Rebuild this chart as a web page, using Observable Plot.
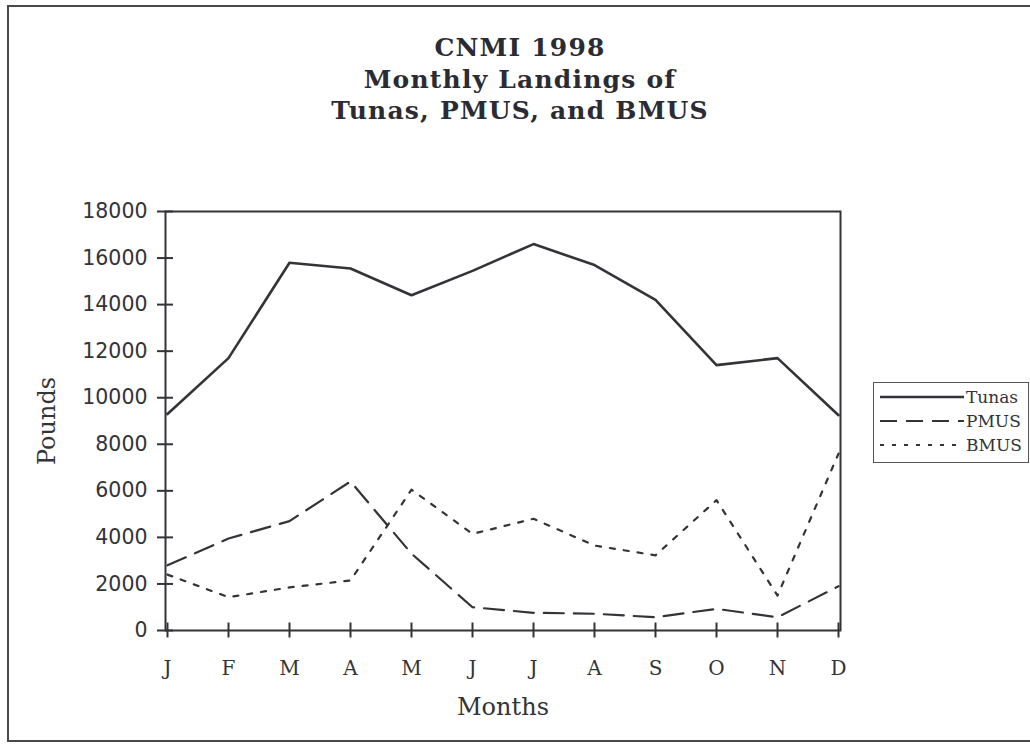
<!DOCTYPE html>
<html>
<head>
<meta charset="utf-8">
<script src="https://cdn.jsdelivr.net/npm/d3@7"></script>
<script src="https://cdn.jsdelivr.net/npm/@observablehq/plot@0.6"></script>
<style>
  html, body { margin: 0; padding: 0; background: #fff; }
  #wrap { position: relative; width: 1030px; height: 748px; overflow: hidden; background: #fff; }
  #border { position: absolute; left: 7px; top: 5px; width: 1040px; height: 737px; border: 2px solid #4a4a4a; box-sizing: border-box; }
  #title { position: absolute; left: 0; top: 32px; width: 1040px; text-align: center;
    font-family: "DejaVu Serif", serif; font-weight: bold; font-size: 25px; letter-spacing: 1.2px; line-height: 31.5px; color: #2b2b33; }
  #chart { position: absolute; left: 0; top: 0; }
  #legend { position: absolute; left: 873px; top: 382px; width: 156px; height: 81px; border: 1px solid #555; box-sizing: border-box; background: #fff; }
</style>
</head>
<body>
<div id="wrap">
  <div id="border"></div>
  <div id="chart"></div>
  <div id="title">CNMI 1998<br>Monthly Landings of<br>Tunas, PMUS, and BMUS</div>
  <div id="legend"></div>
</div>
<script>
// ---- data ----
const monthLabels = ["J", "F", "M", "A", "M", "J", "J", "A", "S", "O", "N", "D"];
const tunas = [9300, 11700, 15800, 15550, 14400, 15450, 16600, 15700, 14200, 11400, 11700, 9250];
const pmus  = [2800, 3950, 4700, 6400, 3300, 1000, 760, 720, 570, 930, 570, 1900];
const bmus  = [2400, 1430, 1850, 2150, 6050, 4150, 4800, 3650, 3230, 5600, 1500, 7600];
const yTicks = [0, 2000, 4000, 6000, 8000, 10000, 12000, 14000, 16000, 18000];
const seriesNames = ["Tunas", "PMUS", "BMUS"];

const ink = "#333338";
const idx = d3.range(monthLabels.length);
const rows = (vals) => vals.map((v, i) => ({i, v}));
const dashes = {Tunas: null, PMUS: "20,10", BMUS: "5,9"};
const widths = {Tunas: 2.6, PMUS: 2.2, BMUS: 2.2};

const chart = Plot.plot({
  width: 1030,
  height: 748,
  marginLeft: 165,
  marginRight: 190,
  marginTop: 211,
  marginBottom: 118,
  style: {background: "transparent", color: ink},
  x: {type: "point", domain: idx, padding: 0},
  y: {domain: [0, 18000]},
  marks: [
    Plot.frame({stroke: ink, strokeWidth: 2}),
    Plot.axisY({ticks: yTicks, tickSize: 16, dx: 8, tickPadding: 10, strokeWidth: 2,
      fontFamily: "DejaVu Sans, sans-serif", fontSize: 20.5, fill: ink, label: null, tickFormat: d => String(d)}),
    Plot.axisX({ticks: idx, tickSize: 15, dy: -7.5, tickPadding: 23, strokeWidth: 2,
      fontFamily: "DejaVu Serif, serif", fontSize: 20, fill: ink, label: null, tickFormat: i => monthLabels[i]}),
    Plot.line(rows(tunas), {x: "i", y: "v", stroke: ink, strokeWidth: widths.Tunas}),
    Plot.line(rows(pmus), {x: "i", y: "v", stroke: ink, strokeWidth: widths.PMUS, strokeDasharray: dashes.PMUS}),
    Plot.line(rows(bmus), {x: "i", y: "v", stroke: ink, strokeWidth: widths.BMUS, strokeDasharray: dashes.BMUS}),
    Plot.text(["Months"], {frameAnchor: "bottom", text: d => d, dy: 77, lineAnchor: "middle",
      fontFamily: "DejaVu Serif, serif", fontSize: 24, fill: ink}),
    Plot.text(["Pounds"], {frameAnchor: "left", text: d => d, dx: -118, rotate: -90, lineAnchor: "middle",
      textAnchor: "middle", fontFamily: "DejaVu Serif, serif", fontSize: 24, fill: ink})
  ]
});
document.getElementById("chart").appendChild(chart);

// ---- legend ----
const lg = d3.select("#legend").append("svg").attr("width", 154).attr("height", 80);
seriesNames.forEach((name, k) => {
  const y = 14 + k * 24;
  lg.append("line").attr("x1", 6).attr("x2", 90).attr("y1", y).attr("y2", y)
    .attr("stroke", ink).attr("stroke-width", widths[name])
    .attr("stroke-dasharray", name === "PMUS" ? "17,9" : name === "BMUS" ? "4,8" : null);
  lg.append("text").attr("x", 92).attr("y", y).attr("dy", "0.35em")
    .attr("font-family", "DejaVu Serif, serif").attr("font-size", 17).attr("fill", ink).text(name);
});
</script>
</body>
</html>
